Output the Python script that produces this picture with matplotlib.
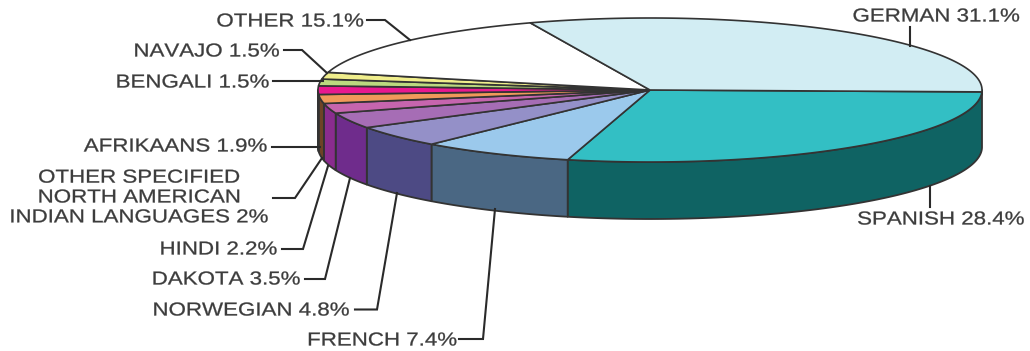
#!/usr/bin/env python3
# 3D-style pie of languages, drawn as filled polygons in a pixel-sized axes.

import matplotlib
matplotlib.use('Agg')
import numpy as np
from matplotlib import pyplot as plt
from matplotlib.patheffects import AbstractPathEffect
from matplotlib.transforms import Affine2D

plt.rcParams['text.kerning_factor'] = 6

# slices, clockwise from the east end of the ellipse
languages = ['SPANISH', 'FRENCH', 'NORWEGIAN', 'DAKOTA', 'HINDI',
             'OTHER SPECIFIED\nNORTH AMERICAN\nINDIAN LANGUAGES', 'AFRIKAANS',
             'BENGALI', 'NAVAJO', 'OTHER', 'GERMAN']
shares = [28.4, 7.4, 4.8, 3.5, 2.2, 2, 1.9, 1.5, 1.5, 15.1, 31.1]

top_colors = ['#33bfc4', '#9bc9ec', '#9490c8', '#a66db5', '#c665ae', '#f0995a',
              '#e8188f', '#bcd97f', '#f0ee8c', '#ffffff', '#d2edf3']
side_colors = ['#0f6363', '#4a6783', '#4d4a84', '#6f2c8c', '#8a2c8e', '#6e4326',
               '#7a1a50']

# label centre (x, y), then the leader polyline, same order as languages
label_pos = [(941, 220), (382, 341), (251, 311), (226, 280), (218.5, 250),
             (139, 198), (175.5, 147), (192.5, 83), (206.5, 52), (290, 22), (936, 17)]
leaders = [[(930, 186), (930, 207)],
           [(459, 339), (483, 339), (495, 209)],
           [(355, 309.5), (377, 309.5), (397, 193)],
           [(305, 279), (325, 279), (350, 178)],
           [(282, 249), (303, 249), (328, 166)],
           [(273, 198), (295, 198), (322, 158)],
           [(272, 146.5), (320, 146.5)],
           [(273, 81), (323, 81)],
           [(284, 50), (302, 50), (327, 73)],
           [(367, 20), (385, 20), (410, 40)],
           [(910, 27), (910, 46)]]

CX, CY = 650, 90
RX, RY = 332, 72
DEPTH = 57
START = 1.5     # the first spoke dips slightly below horizontal
EDGE = '#333333'
TEXT = '#3c3c3c'


class StretchX(AbstractPathEffect):
    """Widen text glyphs horizontally around the anchor x, with a thin outline."""
    def __init__(self, x0, factor, weight=0.2):
        super().__init__()
        self.stretch = Affine2D().translate(-x0, 0).scale(factor, 1).translate(x0, 0)
        self.weight = weight

    def draw_path(self, renderer, gc, tpath, affine, rgbFace=None):
        gc0 = renderer.new_gc()
        gc0.copy_properties(gc)
        gc0.set_linewidth(self.weight)
        renderer.draw_path(gc0, tpath, affine + self.stretch, rgbFace)
        gc0.restore()


def rim(t0, t1):
    t = np.radians(np.linspace(t0, t1, max(int(abs(t1 - t0) * 2), 2)))
    return CX + RX * np.cos(t), CY + RY * np.sin(t)


fig = plt.figure(figsize=[10.3, 3.51], dpi=100)
ax = fig.add_axes([0, 0, 1, 1])
ax.set_xlim(0, 1030)
ax.set_ylim(351, 0)
ax.axis('off')

edges = START + np.cumsum([0] + shares) / sum(shares) * 360

# side wall: only the front half of the rim (0-180 deg) is visible,
# the first wall also covers the short stretch back to 0 deg
for i, color in enumerate(side_colors):
    t0 = 0 if i == 0 else edges[i]
    t1 = min(edges[i + 1], 180)
    x, y = rim(t0, t1)
    ax.fill(np.r_[x, x[::-1]], np.r_[y, y[::-1] + DEPTH], facecolor=color,
            edgecolor=EDGE, lw=1.3, joinstyle='round', zorder=2)

# top face
for i, color in enumerate(top_colors):
    x, y = rim(edges[i], edges[i + 1])
    ax.fill(np.r_[CX, x], np.r_[CY, y], facecolor=color,
            edgecolor=EDGE, lw=1.2, joinstyle='round', zorder=3)

# leader lines and labels
for name, share, (lx, ly), path in zip(languages, shares, label_pos, leaders):
    px, py = zip(*path)
    ax.plot(px, py, color='#2a2a2a', lw=1.5, solid_joinstyle='miter', zorder=4)
    ax.text(lx, ly, '{} {:g}%'.format(name, share), ha='center', va='center',
            multialignment='center', family='Liberation Sans', fontsize=13.5, color=TEXT,
            linespacing=1.22, path_effects=[StretchX(lx, 1.19)], zorder=5)

fig.savefig('out.png', dpi=100)
